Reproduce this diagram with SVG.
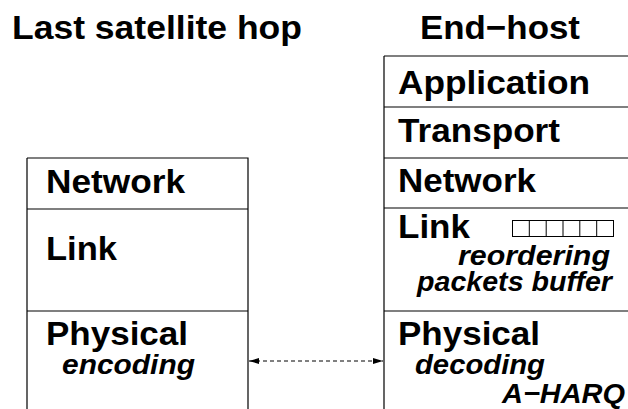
<svg xmlns="http://www.w3.org/2000/svg" width="628" height="409" viewBox="0 0 628 409">
<style>
.ln{fill:none;stroke:#000;stroke-width:1.2}
.t{font-family:"Liberation Sans",Arial,Helvetica,sans-serif;font-weight:bold;fill:#000}
.b{font-size:34px}
.h{font-size:34px}
.i{font-size:28px;font-style:italic}
.cell{fill:#fff;stroke:#000;stroke-width:1}
</style>
<defs>
<marker id="ah" viewBox="0 0 10 6" refX="10" refY="3" markerWidth="10" markerHeight="6" markerUnits="userSpaceOnUse" orient="auto-start-reverse">
<path d="M0,0 L10,3 L0,6 Z" fill="#000"/>
</marker>
</defs>
<rect width="628" height="409" fill="#fff"/>
<g id="titles">
<text class="t h" x="12" y="39" textLength="290" lengthAdjust="spacingAndGlyphs">Last satellite hop</text>
<text class="t h" x="420" y="39" textLength="160" lengthAdjust="spacingAndGlyphs">End−host</text>
</g>
<g id="sat-network">
<path class="ln" d="M27,158 H248 V209 M27,158 V209"/>
<text class="t b" x="46" y="193" textLength="139" lengthAdjust="spacingAndGlyphs">Network</text>
</g>
<g id="sat-link">
<path class="ln" d="M27,209 H248 M27,209 V311 M248,209 V311"/>
<text class="t b" x="46" y="260" textLength="71" lengthAdjust="spacingAndGlyphs">Link</text>
</g>
<g id="sat-physical">
<path class="ln" d="M27,311 H248 M27,311 V409 M248,311 V409"/>
<text class="t b" x="46" y="345" textLength="142" lengthAdjust="spacingAndGlyphs">Physical</text>
<text class="t i" x="62" y="374" textLength="133" lengthAdjust="spacingAndGlyphs">encoding</text>
</g>
<g id="host-application">
<path class="ln" d="M384,56 H628 M384,56 V107"/>
<text class="t b" x="398" y="94" textLength="192" lengthAdjust="spacingAndGlyphs">Application</text>
</g>
<g id="host-transport">
<path class="ln" d="M384,107 H628 M384,107 V158"/>
<text class="t b" x="398" y="142" textLength="162" lengthAdjust="spacingAndGlyphs">Transport</text>
</g>
<g id="host-network">
<path class="ln" d="M384,158 H628 M384,158 V208"/>
<text class="t b" x="398" y="192" textLength="138" lengthAdjust="spacingAndGlyphs">Network</text>
</g>
<g id="host-link">
<path class="ln" d="M384,208 H628 M384,208 V311"/>
<text class="t b" x="398" y="238" textLength="72" lengthAdjust="spacingAndGlyphs">Link</text>
<g id="buffer">
<rect class="cell" x="512.5" y="220.5" width="101" height="16"/>
<path class="cell" d="M529.3,220.5 V236.5 M546.2,220.5 V236.5 M563,220.5 V236.5 M579.8,220.5 V236.5 M596.7,220.5 V236.5"/>
</g>
<text class="t i" x="458" y="265" textLength="152" lengthAdjust="spacingAndGlyphs">reordering</text>
<text class="t i" x="417" y="291" textLength="195" lengthAdjust="spacingAndGlyphs">packets buffer</text>
</g>
<g id="host-physical">
<path class="ln" d="M384,311 H628 M384,311 V409"/>
<text class="t b" x="398" y="345" textLength="142" lengthAdjust="spacingAndGlyphs">Physical</text>
<text class="t i" x="415" y="374" textLength="130" lengthAdjust="spacingAndGlyphs">decoding</text>
<text class="t i" x="502" y="403" textLength="123" lengthAdjust="spacingAndGlyphs">A−HARQ</text>
</g>
<g id="connectors">
<line x1="249" y1="361" x2="383" y2="361" stroke="#000" stroke-width="1" stroke-dasharray="4,3" marker-start="url(#ah)" marker-end="url(#ah)"/>
</g>
</svg>
